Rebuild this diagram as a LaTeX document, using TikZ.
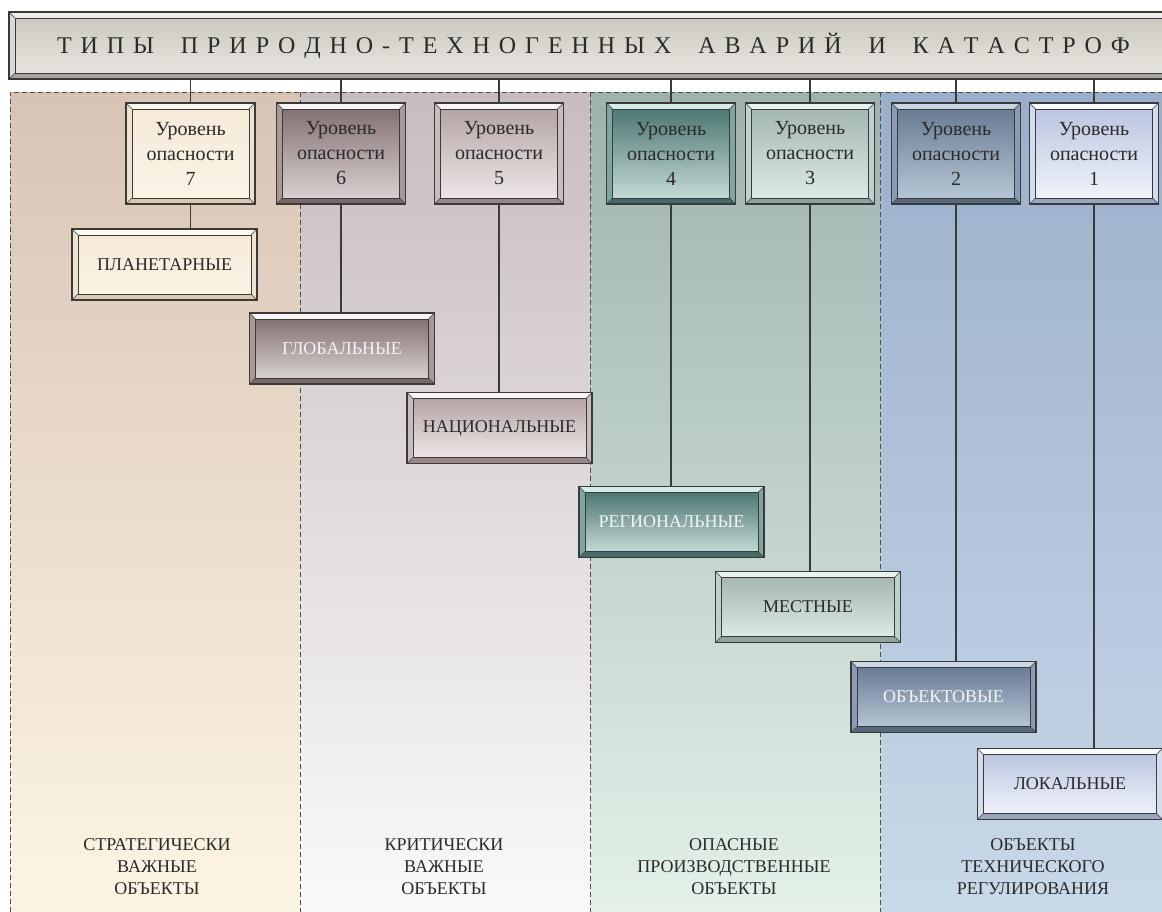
\documentclass[tikz,border=0pt]{standalone}
\usepackage{fontspec}
\setmainfont{Liberation Serif}
\usetikzlibrary{calc}
\pgfdeclarelayer{panels}
\pgfdeclarelayer{bevlayer}
\pgfsetlayers{panels,bevlayer,main}

\definecolor{txt}{HTML}{2A2A2A}
\definecolor{wtxt}{HTML}{F4F4F4}
\definecolor{lnc}{HTML}{3A3A3A}
% panels
\definecolor{p1t}{HTML}{D8C4B5}\definecolor{p1b}{HTML}{FDF5E3}
\definecolor{p2t}{HTML}{C8BCBE}\definecolor{p2b}{HTML}{FAFAFA}
\definecolor{p3t}{HTML}{9EB2AE}\definecolor{p3b}{HTML}{E3F1E8}
\definecolor{p4t}{HTML}{9AAFCB}\definecolor{p4b}{HTML}{C9D9E9}
% box schemes: t face top, b face bottom, l light bevel, s side bevel, d dark bevel
\definecolor{kht}{HTML}{CCC9BF}\definecolor{khb}{HTML}{E6E4DE}\definecolor{khl}{HTML}{EFEEE8}\definecolor{khs}{HTML}{DCD9D0}\definecolor{khd}{HTML}{A9A59B}
\definecolor{k7t}{HTML}{F5EADA}\definecolor{k7b}{HTML}{FBF3E6}\definecolor{k7l}{HTML}{FDF8EE}\definecolor{k7s}{HTML}{EFE2CF}\definecolor{k7d}{HTML}{D9C8B2}
\definecolor{k6t}{HTML}{847272}\definecolor{k6b}{HTML}{D8D0D0}\definecolor{k6l}{HTML}{F8F4F4}\definecolor{k6s}{HTML}{A89898}\definecolor{k6d}{HTML}{7A6868}
\definecolor{k5t}{HTML}{B5A5A5}\definecolor{k5b}{HTML}{EDE6E6}\definecolor{k5l}{HTML}{FAF6F6}\definecolor{k5s}{HTML}{CBBCBC}\definecolor{k5d}{HTML}{9A8888}
\definecolor{k4t}{HTML}{4F7773}\definecolor{k4b}{HTML}{C3D9D5}\definecolor{k4l}{HTML}{D5EBE5}\definecolor{k4s}{HTML}{7FA5A0}\definecolor{k4d}{HTML}{436B67}
\definecolor{k3t}{HTML}{A5B7B3}\definecolor{k3b}{HTML}{DCEAE5}\definecolor{k3l}{HTML}{E8F3EF}\definecolor{k3s}{HTML}{C0D0CC}\definecolor{k3d}{HTML}{8EA29E}
\definecolor{k2t}{HTML}{6A7C94}\definecolor{k2b}{HTML}{B5C5D5}\definecolor{k2l}{HTML}{C8D6E6}\definecolor{k2s}{HTML}{8A9CB4}\definecolor{k2d}{HTML}{56687E}
\definecolor{k1t}{HTML}{BCC6E0}\definecolor{k1b}{HTML}{EEF2FA}\definecolor{k1l}{HTML}{FBFCFF}\definecolor{k1s}{HTML}{D4DCEE}\definecolor{k1d}{HTML}{9AA6C0}

\newcommand\bevbox[2]{%
 \begin{pgfonlayer}{bevlayer}
 \coordinate (#1-A) at (#1.north west);
 \coordinate (#1-B) at (#1.north east);
 \coordinate (#1-C) at (#1.south east);
 \coordinate (#1-D) at (#1.south west);
 \coordinate (#1-a) at ([shift={(6,6)}]#1.north west);
 \coordinate (#1-b) at ([shift={(-6,6)}]#1.north east);
 \coordinate (#1-c) at ([shift={(-6,-6)}]#1.south east);
 \coordinate (#1-d) at ([shift={(6,-6)}]#1.south west);
 \fill[#2l] (#1-A) -- (#1-B) -- (#1-b) -- (#1-a) -- cycle;
 \fill[#2s] (#1-B) -- (#1-C) -- (#1-c) -- (#1-b) -- cycle;
 \fill[#2d] (#1-D) -- (#1-C) -- (#1-c) -- (#1-d) -- cycle;
 \fill[#2s] (#1-A) -- (#1-D) -- (#1-d) -- (#1-a) -- cycle;
 \shade[top color=#2t, bottom color=#2b] (#1-a) rectangle (#1-c);
 \draw[boxline] (#1-A) rectangle (#1-C);
 \draw[boxline, line width=0.6pt] (#1-a) rectangle (#1-c);
 \draw[boxline, line width=0.6pt] (#1-A) -- (#1-a) (#1-B) -- (#1-b) (#1-C) -- (#1-c) (#1-D) -- (#1-d);
 \end{pgfonlayer}}

\begin{document}
\begin{tikzpicture}[x=1pt, y=-1pt,
  boxline/.style={draw=lnc, line width=1.1pt},
  conn/.style={draw=lnc, line width=1.1pt},
  dashln/.style={draw=lnc!90, line width=0.9pt, dash pattern=on 5pt off 3pt},
  lvl/.style={inner sep=0pt, outer sep=0pt, minimum width=129pt, minimum height=101pt, align=center, text=txt, font=\fontsize{20}{25}\selectfont},
  cat/.style={inner sep=0pt, outer sep=0pt, minimum width=185pt, minimum height=71pt, align=center, text=txt, font=\fontsize{18}{22}\selectfont},
  lab/.style={inner sep=0pt, align=center, text=txt, font=\fontsize{18}{22}\selectfont}]
\useasboundingbox (0,0) rectangle (1162,911);

% panels
\begin{pgfonlayer}{panels}
\fill[white] (0,0) rectangle (1162,911);
\shade[top color=p1t, bottom color=p1b] (10,92) rectangle (300,911);
\shade[top color=p2t, bottom color=p2b] (300,92) rectangle (590,911);
\shade[top color=p3t, bottom color=p3b] (590,92) rectangle (880,911);
\shade[top color=p4t, bottom color=p4b] (880,92) rectangle (1190,911);
\draw[dashln] (10,912) -- (10,92) -- (1190,92);
\draw[dashln] (300,92) -- (300,912);
\draw[dashln] (590,92) -- (590,912);
\draw[dashln] (880,92) -- (880,912);
\end{pgfonlayer}

% header
\node[inner sep=0pt, outer sep=0pt, minimum width=1161pt, minimum height=67pt] (H) at (589.5,45.5) {};
\bevbox{H}{kh}
\node[inner sep=0pt, text=txt, font=\fontsize{24}{28}\selectfont] (HT) at (593.5,46)
 {\makebox[1073pt][s]{Т\hfill И\hfill П\hfill Ы\hfill\hfill\hfill П\hfill Р\hfill И\hfill Р\hfill О\hfill Д\hfill Н\hfill О\hfill -\hfill Т\hfill Е\hfill Х\hfill Н\hfill О\hfill Г\hfill Е\hfill Н\hfill Н\hfill Ы\hfill Х\hfill\hfill\hfill А\hfill В\hfill А\hfill Р\hfill И\hfill Й\hfill\hfill\hfill И\hfill\hfill\hfill К\hfill А\hfill Т\hfill А\hfill С\hfill Т\hfill Р\hfill О\hfill Ф}};

% level boxes
\node[lvl] (L7) at (190.5,153.5) {Уровень\\опасности\\7};
\node[lvl] (L6) at (341,153.5) {Уровень\\опасности\\6};
\node[lvl] (L5) at (499,153.5) {Уровень\\опасности\\5};
\node[lvl] (L4) at (671,153.5) {Уровень\\опасности\\4};
\node[lvl] (L3) at (810,153.5) {Уровень\\опасности\\3};
\node[lvl] (L2) at (956,153.5) {Уровень\\опасности\\2};
\node[lvl] (L1) at (1094,153.5) {Уровень\\опасности\\1};
\bevbox{L7}{k7}\bevbox{L6}{k6}\bevbox{L5}{k5}\bevbox{L4}{k4}
\bevbox{L3}{k3}\bevbox{L2}{k2}\bevbox{L1}{k1}

% category boxes
\node[cat] (PL) at (164.5,264.5) {ПЛАНЕТАРНЫЕ};
\node[cat, text=wtxt] (GL) at (342,348.5) {ГЛОБАЛЬНЫЕ};
\node[cat] (NA) at (499.5,428) {НАЦИОНАЛЬНЫЕ};
\node[cat, text=wtxt] (RE) at (671.5,522) {РЕГИОНАЛЬНЫЕ};
\node[cat] (ME) at (808,607) {МЕСТНЫЕ};
\node[cat, text=wtxt] (OB) at (943.5,697) {ОБЪЕКТОВЫЕ};
\node[cat] (LO) at (1070,784) {ЛОКАЛЬНЫЕ};
\bevbox{PL}{k7}\bevbox{GL}{k6}\bevbox{NA}{k5}\bevbox{RE}{k4}
\bevbox{ME}{k3}\bevbox{OB}{k2}\bevbox{LO}{k1}

% connectors header -> levels
\foreach \n in {L7,L6,L5,L4,L3,L2,L1}
  \draw[conn] (\n.north |- H.south) -- (\n.north);
% connectors levels -> categories
\draw[conn] (L7.south) -- (L7.south |- PL.north);
\draw[conn] (L6.south) -- (L6.south |- GL.north);
\draw[conn] (L5.south) -- (L5.south |- NA.north);
\draw[conn] (L4.south) -- (L4.south |- RE.north);
\draw[conn] (L3.south) -- (L3.south |- ME.north);
\draw[conn] (L2.south) -- (L2.south |- OB.north);
\draw[conn] (L1.south) -- (L1.south |- LO.north);

% bottom labels
\node[lab] (T1) at (157,867) {СТРАТЕГИЧЕСКИ\\ВАЖНЫЕ\\ОБЪЕКТЫ};
\node[lab] (T2) at (444,867) {КРИТИЧЕСКИ\\ВАЖНЫЕ\\ОБЪЕКТЫ};
\node[lab] (T3) at (734,867) {ОПАСНЫЕ\\ПРОИЗВОДСТВЕННЫЕ\\ОБЪЕКТЫ};
\node[lab] (T4) at (1033,867) {ОБЪЕКТЫ\\ТЕХНИЧЕСКОГО\\РЕГУЛИРОВАНИЯ};
\end{tikzpicture}
\end{document}
